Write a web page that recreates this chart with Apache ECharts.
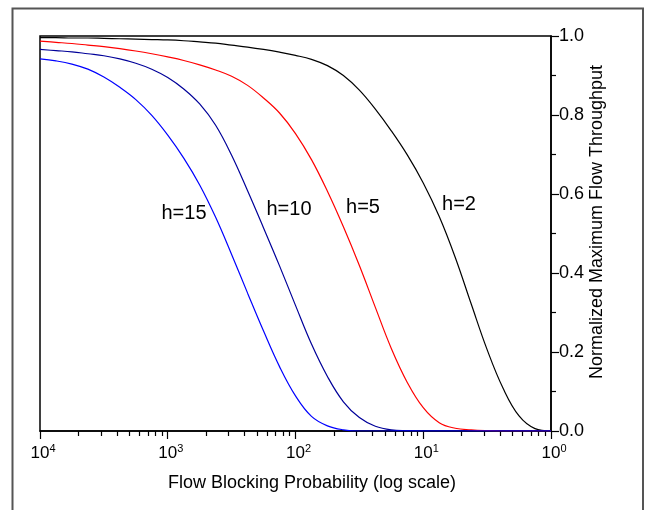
<!DOCTYPE html>
<html><head><meta charset="utf-8">
<script src="https://cdn.jsdelivr.net/npm/echarts@6/dist/echarts.min.js"></script>
<style>html,body{margin:0;padding:0;background:#fff}#c{width:648px;height:510px}</style>
</head><body><div id="c"></div>
<script>
// x-axis decades and the exponent text shown in the reference (minus sign not printed)
const xTickValues = [1e-4, 1e-3, 1e-2, 1e-1, 1];
const xTickExponents = ['4', '3', '2', '1', '0'];
const xMinorValues = [2e-4,3e-4,4e-4,5e-4,6e-4,7e-4,8e-4,9e-4,
  2e-3,3e-3,4e-3,5e-3,6e-3,7e-3,8e-3,9e-3,
  0.02,0.03,0.04,0.05,0.06,0.07,0.08,0.09,
  0.2,0.3,0.4,0.5,0.6,0.7,0.8,0.9];

const seriesNames = ['h=2', 'h=5', 'h=10', 'h=15'];

// flow blocking probability (x), sampled 8 per decade
const blockingProb = [1e-4, 1.334e-4, 1.778e-4, 2.371e-4, 3.162e-4, 4.217e-4, 5.623e-4, 7.499e-4,
  1e-3, 1.334e-3, 1.778e-3, 2.371e-3, 3.162e-3, 4.217e-3, 5.623e-3, 7.499e-3,
  0.01, 0.01334, 0.01778, 0.02371, 0.03162, 0.04217, 0.05623, 0.07499,
  0.1, 0.1334, 0.1778, 0.2371, 0.3162, 0.4217, 0.5623, 0.7499, 1];

// normalized maximum flow throughput for each hop count
const thrH2 = [0.996, 0.996, 0.995, 0.995, 0.994, 0.993, 0.992, 0.991,
  0.990, 0.988, 0.985, 0.982, 0.977, 0.972, 0.966, 0.959,
  0.951, 0.941, 0.925, 0.900, 0.863, 0.815, 0.760, 0.699,
  0.628, 0.543, 0.440, 0.322, 0.206, 0.108, 0.038, 0.006, 0];
const thrH5 = [0.987, 0.984, 0.981, 0.977, 0.973, 0.968, 0.962, 0.955,
  0.947, 0.938, 0.927, 0.914, 0.898, 0.875, 0.843, 0.805,
  0.753, 0.687, 0.607, 0.517, 0.419, 0.313, 0.209, 0.123,
  0.059, 0.021, 0.007, 0.003, 0.001, 0, 0, 0, 0];
const thrH10 = [0.966, 0.963, 0.960, 0.955, 0.950, 0.942, 0.931, 0.916,
  0.895, 0.866, 0.828, 0.774, 0.698, 0.608, 0.514, 0.418,
  0.318, 0.220, 0.138, 0.074, 0.034, 0.012, 0.003, 0.001,
  0, 0, 0, 0, 0, 0, 0, 0, 0];
const thrH15 = [0.942, 0.937, 0.929, 0.916, 0.896, 0.870, 0.839, 0.799,
  0.749, 0.691, 0.623, 0.541, 0.447, 0.349, 0.253, 0.163,
  0.089, 0.037, 0.013, 0.003, 0, 0, 0, 0,
  0, 0, 0, 0, 0, 0, 0, 0, 0];

const colors = ['#000000', '#ff0000', '#000099', '#0000ff'];
const FONT = '"Liberation Sans", Arial, sans-serif';

function pairs(xs, ys) { return xs.map((x, i) => [x, ys[i]]); }
const allData = [thrH2, thrH5, thrH10, thrH15].map(ys => pairs(blockingProb, ys));

const chart = echarts.init(document.getElementById('c'), null, {renderer: 'canvas'});
chart.setOption({
  animation: false,
  backgroundColor: '#fff',
  grid: {left: 40, right: 97, top: 36, bottom: 79, show: true, borderColor: '#000', borderWidth: 1.5, backgroundColor: 'transparent'},
  xAxis: [{
    type: 'log', logBase: 10, min: 1e-4, max: 1, position: 'bottom',
    axisLine: {show: true, lineStyle: {color: '#000', width: 1.5}},
    axisTick: {show: true, inside: false, length: 8, lineStyle: {color: '#000', width: 1.2}, customValues: xTickValues},
    axisLabel: {
      show: true, margin: 12, customValues: xTickValues,
      formatter: function (v) {
        let idx = 0, best = Infinity;
        xTickValues.forEach((t, i) => { const d = Math.abs(Math.log10(t) - Math.log10(v)); if (d < best) { best = d; idx = i; } });
        return '{p|}{b|10}{s|' + xTickExponents[idx] + '}';
      },
      rich: {
        p: {width: 6, fontSize: 17, lineHeight: 20},
        b: {fontSize: 17, fontFamily: FONT, color: '#000', lineHeight: 20},
        s: {fontSize: 11, fontFamily: FONT, color: '#000', lineHeight: 11, verticalAlign: 'top'}
      }
    },
    splitLine: {show: false}
  }, {
    type: 'log', logBase: 10, min: 1e-4, max: 1, position: 'bottom', gridIndex: 0,
    axisLine: {show: false},
    axisTick: {show: true, inside: false, length: 5, lineStyle: {color: '#000', width: 1.2}, customValues: xMinorValues},
    axisLabel: {show: false},
    splitLine: {show: false}
  }],
  yAxis: {
    type: 'value', position: 'right', min: 0, max: 1, interval: 0.2,
    axisLine: {show: true, lineStyle: {color: '#000', width: 1.5}},
    axisTick: {show: true, inside: false, length: 8, lineStyle: {color: '#000', width: 1.2}},
    minorTick: {show: true, splitNumber: 2, length: 5, lineStyle: {color: '#000', width: 1.2}},
    axisLabel: {margin: 8, fontSize: 18, fontFamily: FONT, color: '#000', formatter: v => v.toFixed(1)},
    splitLine: {show: false}
  },
  series: allData.map((d, i) => ({
    name: seriesNames[i], type: 'line', data: d, xAxisIndex: 0,
    showSymbol: false, smooth: 0.4,
    lineStyle: {color: colors[i], width: 1.2},
    itemStyle: {color: colors[i]},
    z: 3 + i
  })),
  graphic: [
    {type: 'rect', silent: true, z: -1, shape: {x: 12.5, y: 8.5, width: 630.5, height: 520}, style: {fill: 'transparent', stroke: '#555', lineWidth: 2}},
    {type: 'text', x: 312, y: 483, style: {text: 'Flow Blocking Probability (log scale)', fontSize: 18, fontFamily: FONT, fill: '#000', align: 'center', verticalAlign: 'middle'}},
    {type: 'text', x: 597, y: 222, rotation: Math.PI / 2, style: {text: 'Normalized Maximum Flow Throughput', fontSize: 18, fontFamily: FONT, fill: '#000', align: 'center', verticalAlign: 'middle'}},
    {type: 'text', x: 184, y: 213, style: {text: seriesNames[3], fontSize: 20, fontFamily: FONT, fill: '#000', align: 'center', verticalAlign: 'middle'}},
    {type: 'text', x: 289, y: 209, style: {text: seriesNames[2], fontSize: 20, fontFamily: FONT, fill: '#000', align: 'center', verticalAlign: 'middle'}},
    {type: 'text', x: 363, y: 207, style: {text: seriesNames[1], fontSize: 20, fontFamily: FONT, fill: '#000', align: 'center', verticalAlign: 'middle'}},
    {type: 'text', x: 459, y: 204, style: {text: seriesNames[0], fontSize: 20, fontFamily: FONT, fill: '#000', align: 'center', verticalAlign: 'middle'}}
  ]
});
</script>
</body></html>
